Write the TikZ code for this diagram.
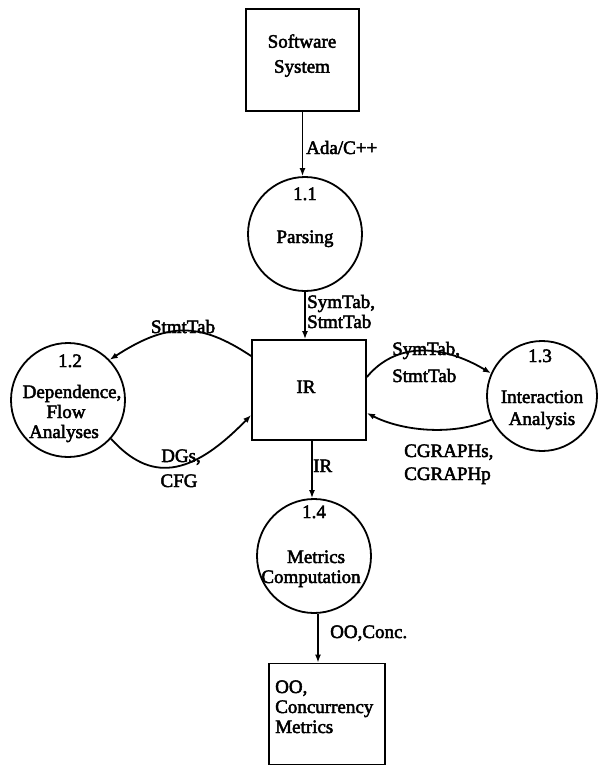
\documentclass[tikz,border=0pt]{standalone}
\usepackage{fontspec}
\setmainfont{Liberation Serif}[FakeBold=2.5]
\usetikzlibrary{arrows.meta}
\begin{document}
\begin{tikzpicture}[x=1pt,y=-1pt,
  every node/.style={font=\fontsize{19}{21}\selectfont},
  proc/.style={draw, circle, line width=1.8pt, inner sep=0pt},
  store/.style={draw, rectangle, line width=1.8pt, inner sep=0pt},
  ctext/.style={inner sep=0pt, anchor=base},
  ltext/.style={inner sep=0pt, anchor=base west},
  flow/.style={line width=1.8pt, -{Latex[length=8pt,width=6pt]}}]
\useasboundingbox (0,0) rectangle (598,766);

% stores and processes
\node[store, minimum width=113pt, minimum height=102pt] (sw) at (302.5,60) {};
\node[proc, minimum size=114pt] (c11) at (305,234) {};
\node[store, minimum width=114pt, minimum height=100pt] (ir) at (309,390) {};
\node[proc, minimum size=114pt] (c12) at (68,400) {};
\node[proc, minimum size=110pt] (c13) at (542,396) {};
\node[proc, minimum size=114pt] (c14) at (314,556) {};
\node[store, minimum width=116pt, minimum height=101pt] (out) at (327,714) {};

% texts inside the shapes
\node[ctext] (t1) at (302,47.7) {Software};
\node[ctext] (t2) at (302,72.7) {System};
\node[ctext] (t3) at (305,200) {1.1};
\node[ctext] (t4) at (305,243) {Parsing};
\node[ctext] (t5) at (306,393) {IR};
\node[ctext] (t6) at (70,367) {1.2};
\node[ctext] (t7) at (72,398) {Dependence,};
\node[ctext] (t8) at (66,418) {Flow};
\node[ctext] (t9) at (64,438) {Analyses};
\node[ctext] (t10) at (540,362) {1.3};
\node[ctext] (t11) at (542,403) {Interaction};
\node[ctext] (t12) at (542,425) {Analysis};
\node[ctext] (t13) at (314,518) {1.4};
\node[ctext] (t14) at (316,563) {Metrics};
\node[ctext] (t15) at (311,583) {Computation};
\node[ltext] (t16) at (275,693) {OO,};
\node[ltext] (t17) at (275,713) {Concurrency};
\node[ltext] (t18) at (275,733) {Metrics};

% flow labels
\node[ltext] (l1) at (306,154) {Ada/C++};
\node[ltext] (l2) at (307,308) {SymTab,};
\node[ltext] (l3) at (307,328) {StmtTab};
\node[ctext] (l4) at (183,333) {StmtTab};
\node[ctext] (l5) at (181,462) {DGs,};
\node[ctext] (l6) at (179,487) {CFG};
\node[ltext] (l7) at (392,355) {SymTab,};
\node[ltext] (l8) at (392,382) {StmtTab};
\node[ltext] (l9) at (404,457) {CGRAPHs,};
\node[ltext] (l10) at (404,480) {CGRAPHp};
\node[ltext] (l11) at (313,472) {IR};
\node[ltext] (l12) at (330,638) {OO,Conc.};

% flows (y grows downwards here, so an upward shift is a positive yshift)
\draw[flow] (sw.south) -- (sw.south |- c11.north);
\draw[flow] (c11.south) -- (c11.south |- ir.north);
\draw[flow] ([yshift=34pt]ir.west) .. controls (200,322) and (168,322) .. (c12.44);
\draw[flow] (c12.-42) .. controls (150,482) and (190,478) .. ([yshift=-25pt]ir.west);
\draw[flow] ([yshift=13pt]ir.east) .. controls (395,343) and (440,343) .. (c13.156);
\draw[flow] (c13.205) .. controls (450,437) and (400,430) .. ([yshift=-23pt]ir.east);
\draw[flow] ([xshift=3pt]ir.south) -- ([xshift=3pt]ir.south |- c14.north);
\draw[flow] ([xshift=4pt]c14.south) -- ([xshift=4pt]c14.south |- out.north);
\end{tikzpicture}
\end{document}
